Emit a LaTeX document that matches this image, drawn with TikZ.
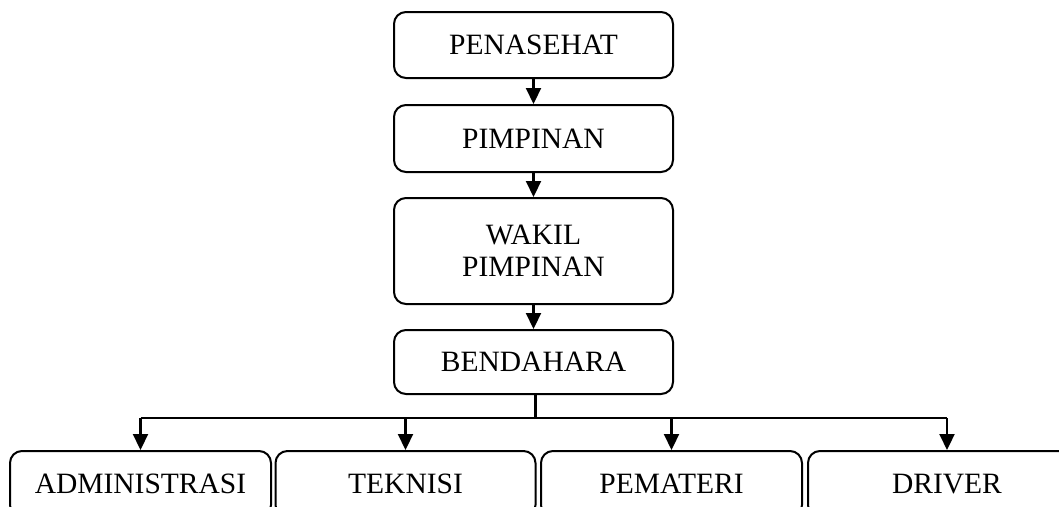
\documentclass[tikz,border=0pt]{standalone}
\usepackage{fontspec}
\setmainfont{Liberation Serif}
\usetikzlibrary{arrows.meta}
\begin{document}
\begin{tikzpicture}[x=1pt,y=-1pt,
  box/.style={draw,line width=2pt,rounded corners=12pt,inner sep=0pt,align=center,
    font=\fontsize{29.5}{32}\selectfont},
  onebox/.style={box,text height=19.5pt,text depth=0pt},
  conn/.style={line width=2.2pt},
  arr/.style={conn,-{Triangle[length=16pt,width=15pt]}}]
\useasboundingbox (0,0) rectangle (1059,506);
\clip (0,0) rectangle (1059,506);
\node[onebox,minimum width=279pt,minimum height=66pt] (pen) at (533.5,45) {PENASEHAT};
\node[onebox,minimum width=279pt,minimum height=67pt] (pim) at (533.5,138.5) {PIMPINAN};
\node[box,minimum width=279pt,minimum height=106pt] (wak) at (533.5,251) {WAKIL\\PIMPINAN};
\node[onebox,minimum width=279pt,minimum height=64pt] (ben) at (533.5,362) {BENDAHARA};
\node[onebox,minimum width=261pt,minimum height=66pt] (adm) at (140.5,484) {ADMINISTRASI};
\node[onebox,minimum width=260pt,minimum height=66pt] (tek) at (405.5,484) {TEKNISI};
\node[onebox,minimum width=261pt,minimum height=66pt] (pem) at (671.5,484) {PEMATERI};
\node[onebox,minimum width=278pt,minimum height=66pt] (drv) at (947,484) {DRIVER};
\coordinate (j) at (535.5,418);
\draw[arr] (pen.south) -- (pim.north);
\draw[arr] (pim.south) -- (wak.north);
\draw[arr] (wak.south) -- (ben.north);
\draw[conn] (ben.south -| j) -- (j);
\draw[conn] (adm.north |- j) -- (drv.north |- j);
\draw[arr] (adm.north |- j) -- (adm.north);
\draw[arr] (tek.north |- j) -- (tek.north);
\draw[arr] (pem.north |- j) -- (pem.north);
\draw[arr] (drv.north |- j) -- (drv.north);
\end{tikzpicture}
\end{document}
